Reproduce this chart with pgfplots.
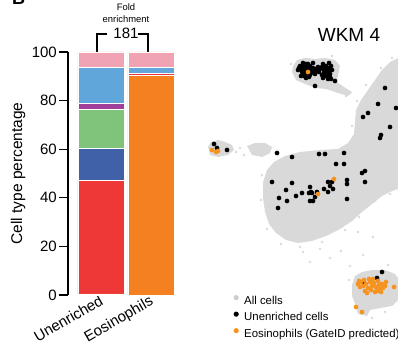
\documentclass[border=0pt]{standalone}
\usepackage{pgfplots}
\pgfplotsset{compat=1.18}
\usepackage{fontspec}
\setmainfont{Liberation Sans}
\definecolor{cpink}{RGB}{240,163,178}
\definecolor{clblue}{RGB}{96,166,218}
\definecolor{cpurple}{RGB}{160,64,152}
\definecolor{cgreen}{RGB}{128,196,124}
\definecolor{cdblue}{RGB}{64,96,168}
\definecolor{cred}{RGB}{238,56,56}
\definecolor{corange}{RGB}{245,128,32}
\definecolor{sorange}{RGB}{246,146,30}
\definecolor{cgrey}{RGB}{217,217,217}
\definecolor{cgreyl}{RGB}{205,205,205}
\begin{document}
\begin{tikzpicture}
\useasboundingbox (0,0) rectangle (398pt,344pt);
\node[anchor=base west, font=\bfseries\fontsize{18}{18}\selectfont, inner sep=0pt] at (12pt,339pt) {B};
% ---------------- stacked bars ----------------
\begin{axis}[
  at={(68pt,49pt)}, anchor=south west,
  width=108pt, height=243pt, scale only axis,
  ybar stacked, bar width=46pt,
  xmin=-0.66, xmax=1.5, ymin=0, ymax=100,
  xtick={0,1}, xticklabels={Unenriched,Eosinophils},
  ytick={0,20,40,60,80,100},
  axis y line*=left, axis x line*=bottom,
  x axis line style={draw=none},
  y axis line style={-, line width=1.3pt},
  xtick style={draw=none},
  ytick style={line width=1.3pt, black},
  tick align=outside, major tick length=9pt,
  /pgf/number format/assume math mode=true,
  ticklabel style={font=\fontsize{15}{15}\selectfont},
  yticklabel style={inner sep=2pt},
  xticklabel style={rotate=30, anchor=north east, inner sep=0pt, xshift=3pt, yshift=9.5pt},
  ylabel={Cell type percentage},
  ylabel style={font=\fontsize{15.5}{16}\selectfont, at={(axis description cs:-0.463,0.5)}, anchor=center},
  clip=false,
  every axis plot/.append style={draw=white, line width=0.3pt},
]
\addplot[fill=corange] coordinates {(0,0.5) (1,90.3)};
\addplot[fill=cred] coordinates {(0,46.6) (1,1.0)};
\addplot[fill=cdblue] coordinates {(0,13.4) (1,0)};
\addplot[fill=cgreen] coordinates {(0,16.0) (1,0)};
\addplot[fill=cpurple] coordinates {(0,2.3) (1,0)};
\addplot[fill=clblue] coordinates {(0,15.0) (1,2.3)};
\addplot[fill=cpink] coordinates {(0,6.2) (1,6.4)};
\node[text=white, font=\fontsize{16}{16}\selectfont] at (axis cs:0,4.9) {0.5};
\node[text=white, font=\fontsize{17}{17}\selectfont] at (axis cs:1,84.8) {90.3};
\draw[line width=1.3pt, black] (axis cs:-0.08,100) |- (axis cs:0.12,107.4);
\draw[line width=1.3pt, black] (axis cs:0.74,107.4) -| (axis cs:0.94,100);
\draw[line width=0.9pt, white] (axis cs:-0.08,100) -- (axis cs:-0.08,97.6);
\draw[line width=0.9pt, white] (axis cs:0.94,100) -- (axis cs:0.94,97.6);
\node[font=\fontsize{15}{15}\selectfont, fill=white, inner sep=1pt] at (axis cs:0.5,107.6) {181};
\node[font=\fontsize{9.4}{10}\selectfont, inner sep=0pt] at (axis cs:0.5,118.6) {Fold};
\node[font=\fontsize{9.4}{10}\selectfont, inner sep=0pt] at (axis cs:0.5,113.6) {enrichment};
\end{axis}
% ---------------- embedding scatter ----------------
\begin{axis}[
  at={(200pt,0pt)}, anchor=south west,
  width=198pt, height=344pt, scale only axis,
  xmin=200, xmax=398, ymin=0, ymax=344, y dir=reverse,
  hide axis, clip=false,
  legend style={at={(axis cs:233.4,294.7)}, anchor=north west, draw=none, fill=none,
    font=\fontsize{11.4}{12}\selectfont, row sep=3.8pt, column sep=4.4pt, inner sep=0pt,
    nodes={inner sep=1pt, text height=8.3pt, text depth=2.4pt}},
  legend cell align=left,
  legend image code/.code={\fill[#1] (0pt,3.6pt) circle (2.6pt);},
]
\addlegendimage{fill=cgreyl, draw=none}
\addlegendentry{All cells}
\addlegendimage{fill=black, draw=none}
\addlegendentry{Unenriched cells}
\addlegendimage{fill=sorange, draw=none}
\addlegendentry{Eosinophils (GateID predicted)}
% grey clouds
\addplot[draw=none, fill=cgrey, forget plot] coordinates {
(398,58) (390,62) (382,70) (375,80) (368,90) (361,100) (356,110) (355,122) (354,134)
(348,143) (338,149) (320,150) (300,152) (285,156) (274,162) (267,170) (263,182)
(263,198) (265,212) (269,224) (276,233) (286,240) (298,243) (312,241) (326,236)
(340,229) (352,221) (362,212) (372,204) (382,196) (392,191) (398,189)} -- cycle;
\addplot[draw=none, fill=cgrey, forget plot] coordinates {
(293,66) (297,60) (305,58) (315,59) (325,58) (335,60) (340,66) (338,75) (337,82)
(344,87) (352,92) (348,96) (338,93) (326,89) (316,88) (305,84) (296,80) (292,72)} -- cycle;
\addplot[draw=none, fill=cgrey, forget plot] coordinates {
(208,147) (211,142) (218,140) (225,142) (232,145) (234,150) (228,155) (218,157) (210,155)} -- cycle;
\addplot[draw=none, fill=cgrey, forget plot] coordinates {
(247,146) (255,143) (265,143) (272,147) (270,153) (262,157) (252,155)} -- cycle;
\addplot[draw=none, fill=cgrey, forget plot] coordinates {
(352,285) (355,276) (362,272) (372,270) (385,270) (395,274) (398,278) (398,300)
(392,306) (380,308) (370,310) (367,316) (358,314) (356,306) (352,296)} -- cycle;
% sparse grey cells
\addplot[only marks, mark=*, mark size=1.1pt, color=cgrey, forget plot] coordinates {
(262,175) (261,200) (267,229) (281,244) (300,247) (322,242) (345,230) (359,217)
(375,201) (390,194) (352,126) (357,101) (366,85) (381,68) (392,58) (291,64) (346,96)
(305,156) (258,151) (240,148) (244,155) (303,252) (320,249) (341,251) (358,232)
(363,255) (373,237) (330,258) (310,262) (350,266) (372,318) (385,312) (332,56)
(280,160) (236,152) (388,265) (349,280)};
% unenriched cells
\addplot[only marks, mark=*, mark size=2.1pt, color=black, forget plot] coordinates {
(298,70) (300,66) (302,72) (304,68) (306,64) (305,75) (308,69) (310,66) (301,76)
(309,77) (303,63) (313,71) (316,69) (319,72) (315,74) (318,67) (323,64) (326,66)
(329,68) (324,70) (327,72) (330,74) (325,76) (328,79) (331,79) (322,75) (329,63)
(332,70) (313,63) (335,81) (315,86)
(299,68) (301,69) (303,66) (305,71) (307,67) (306,73) (304,76) (311,69) (311,73)
(313,68) (317,71) (320,69) (322,67) (325,68) (327,69) (326,74) (329,71) (331,66)
(324,73) (328,76) (330,77) (323,78) (308,64) (306,78) (310,75)
(214,144) (217,148) (227,150)
(385,88) (378,104) (368,113) (363,117) (396,108) (390,127) (381,135) (380,138)
(277,153) (292,157) (319,154) (325,154) (344,153) (336,164) (344,164)
(272,182) (292,183) (286,190) (279,198) (287,201) (296,196) (302,193) (310,187)
(311,192) (309,193) (312,193) (317,192) (315,197) (310,201) (313,201) (324,189)
(328,192) (330,186) (328,182) (332,182) (333,189) (347,180) (347,184) (362,173)
(365,171) (365,182) (347,199) (278,208)
(382,272) (377,278) (364,283)};
% eosinophils
\addplot[only marks, mark=*, mark size=2.1pt, color=sorange, forget plot] coordinates {
(308,72) (212,150) (216,152) (218,151) (334,179) (318,194)
(358,284) (361,282) (360,287) (364,280) (366,284) (368,288) (365,291) (370,282)
(372,286) (371,290) (374,283) (376,287) (375,292) (378,281) (379,285) (380,289)
(382,284) (383,288) (385,286) (369,279) (373,279) (377,291) (381,292) (367,293)
(363,286) (386,282) (356,307) (362,312) (394,287) (359,281)};
\node[font=\fontsize{19}{19}\selectfont] at (axis cs:349,34.5) {WKM 4};
\end{axis}
\end{tikzpicture}
\end{document}
